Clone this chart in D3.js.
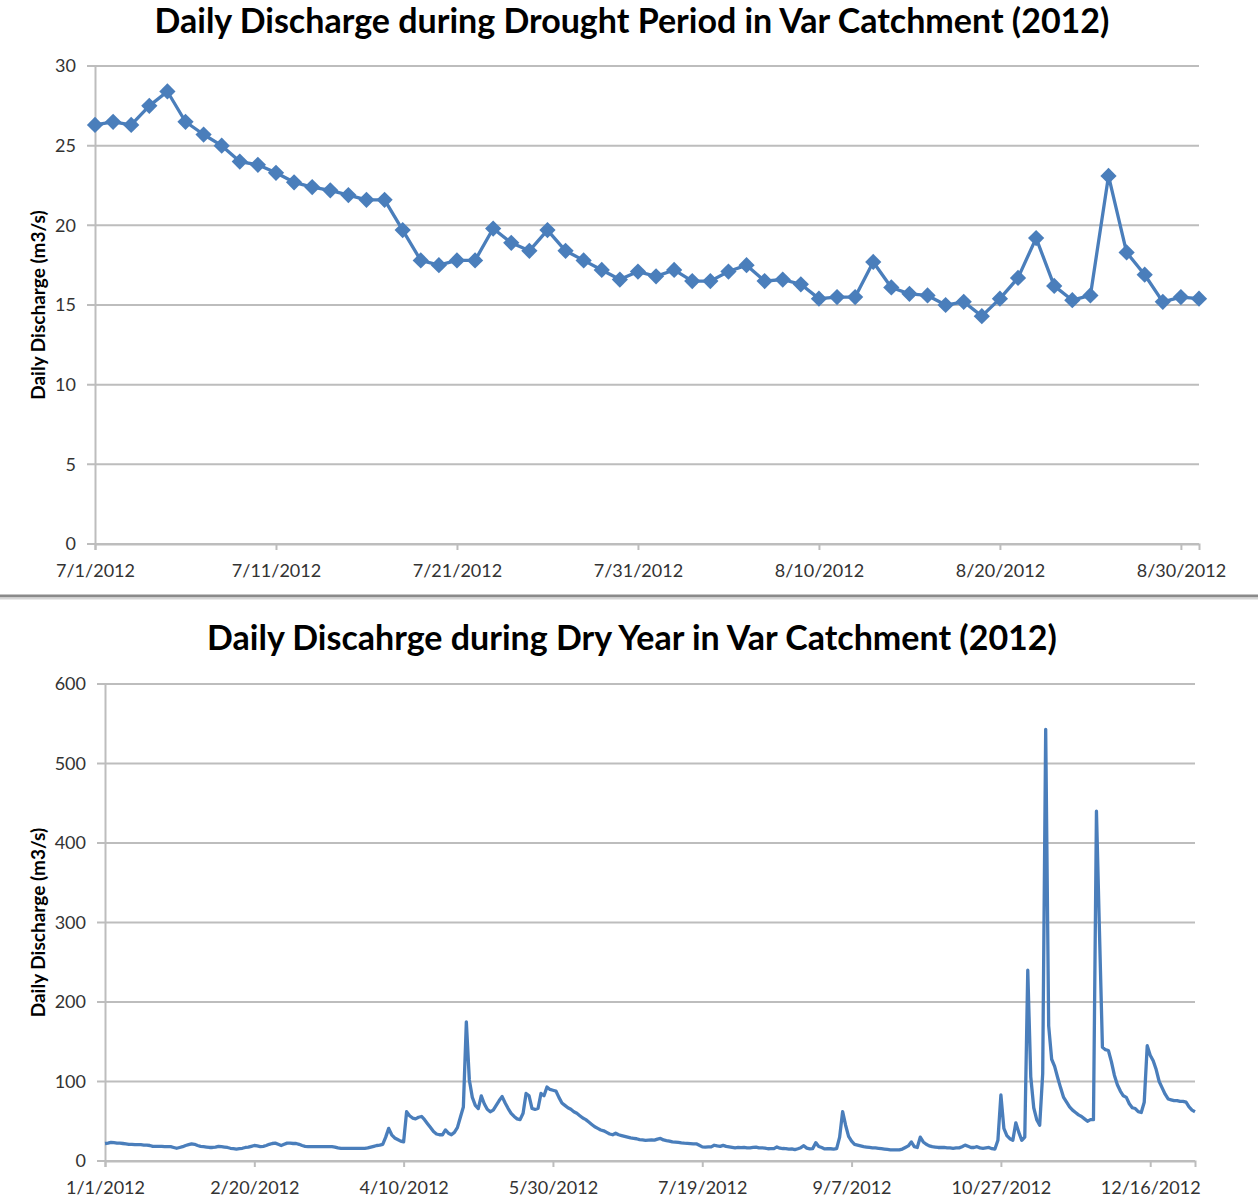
<!DOCTYPE html>
<meta charset="utf-8">
<script src="https://d3js.org/d3.v7.min.js"></script>
<style>
  body { margin: 0; background: #fff; }
  text { font-family: Lato, "Open Sans", sans-serif; }
</style>
<div id="chart"></div>
<script>
// ---- data ----
// drought period: daily discharge 7/1/2012 - 8/31/2012 (m3/s)
var droughtStart = "7/1/2012";
var droughtValues = [
  26.3, 26.5, 26.3, 27.5, 28.4, 26.5, 25.7, 25.0, 24.0, 23.8,
  23.3, 22.7, 22.4, 22.2, 21.9, 21.6, 21.6, 19.7, 17.8, 17.5,
  17.8, 17.8, 19.8, 18.9, 18.4, 19.7, 18.4, 17.8, 17.2, 16.6,
  17.1, 16.8, 17.2, 16.5, 16.5, 17.1, 17.5, 16.5, 16.6, 16.3,
  15.4, 15.5, 15.5, 17.7, 16.1, 15.7, 15.6, 15.0, 15.2, 14.3,
  15.4, 16.7, 19.2, 16.2, 15.3, 15.6, 23.1, 18.3, 16.9, 15.2,
  15.5, 15.4
];
var droughtXTicks = ["7/1/2012", "7/11/2012", "7/21/2012", "7/31/2012", "8/10/2012", "8/20/2012", "8/30/2012"];
var droughtYTicks = [0, 5, 10, 15, 20, 25, 30];

// dry year: daily discharge for 2012, month by month (m3/s)
var yearStart = "1/1/2012";
var janValues = [22, 22.5, 23.5, 23, 22.5, 22.5, 22, 21.5, 21, 21, 20.5, 20.5, 20.5, 20, 20, 19.5, 18.5, 18.5, 18.5, 18.5, 18, 18, 18, 17, 16, 17, 18, 19.5, 20.5, 21.5, 21];
var febValues = [19.5, 18.5, 18, 17.5, 17, 17, 17.5, 18.5, 18, 17.5, 17, 16, 15.5, 15, 15.5, 16, 17, 17.5, 18.5, 19.5, 19, 18, 18.5, 19.5, 21, 22, 22.5, 21, 19.5];
var marValues = [21, 22.5, 22.5, 22, 22, 21, 19.5, 18.5, 18, 18, 18, 18, 18, 18, 18, 18, 18, 17.5, 16.5, 16, 16, 16, 16, 16, 16, 16, 16, 16, 16.5, 17.5, 18.5];
var aprValues = [19.5, 20, 21, 30, 41, 33, 29, 27, 25, 24, 62, 57, 54, 53, 55, 56, 52, 47, 42, 37, 34, 33, 33, 39, 35, 33, 36, 42, 55, 68];
var mayValues = [175, 102, 80, 70, 66, 82, 72, 65, 62, 64, 70, 76, 81, 73, 66, 60, 56, 53, 52, 60, 85, 82, 66, 65, 66, 85, 82, 93, 90, 89, 88];
var junValues = [80, 73, 70, 67, 65, 62, 60, 57, 54, 52, 49, 46, 43, 41, 39, 38, 36, 34, 33, 35, 33, 32, 31, 30, 29, 28.5, 28, 27, 26.5, 26];
// July and August are the drought period above
var sepValues = [15, 15.5, 30, 62, 45, 31, 25, 21, 20, 19, 18, 17.5, 17, 16.5, 16.5, 16, 15.5, 15, 14.5, 14, 14, 14, 14, 15, 17, 19, 24, 18, 17, 30];
var octValues = [24, 21, 19, 18, 17.5, 17, 17, 17, 16.5, 16.5, 16, 16.5, 16.5, 18, 20, 18.5, 17, 17, 18, 16.5, 16, 16.5, 17, 15.5, 15, 26, 83, 41, 32, 28, 26];
var novValues = [48, 36, 26, 30, 240, 106, 67, 52, 45, 110, 543, 170, 128, 119, 105, 92, 80, 74, 68, 64, 61, 58, 56, 53, 50, 52, 52, 440, 290, 143];
var decValues = [140, 139, 125, 108, 96, 88, 82, 80, 72, 67, 66, 62, 61, 74, 145, 133, 126, 115, 100, 92, 84, 78, 77, 76, 76, 75, 75, 74, 68, 64, 62];
var yearXTicks = ["1/1/2012", "2/20/2012", "4/10/2012", "5/30/2012", "7/19/2012", "9/7/2012", "10/27/2012", "12/16/2012"];
var yearYTicks = [0, 100, 200, 300, 400, 500, 600];

var titleTop = "Daily Discharge during Drought Period in Var Catchment (2012)";
var titleBottom = "Daily Discahrge during Dry Year in Var Catchment (2012)";
var yLabel = "Daily Discharge (m3/s)";

// ---- setup ----
var parseDate = d3.timeParse("%m/%d/%Y");
var fmtDate = d3.timeFormat("%-m/%-d/%Y");
var lineColor = "#4a7ebb";
var gridColor = "#bdbdbd";

var yearValues = [].concat(janValues, febValues, marValues, aprValues, mayValues, junValues,
                           droughtValues, sepValues, octValues, novValues, decValues);

function toSeries(start, values) {
  var t0 = parseDate(start);
  return values.map(function(v, i) { return {date: d3.timeDay.offset(t0, i), value: v}; });
}

var svg = d3.select("#chart")
  .append("svg")
    .attr("width", 1258)
    .attr("height", 1202);

svg.append("rect").attr("width", 1258).attr("height", 1202).attr("fill", "#fff");

function drawPanel(p) {
  var width = p.right - p.left,
      height = p.bottom - p.top;
  var g = svg.append("g").attr("transform", "translate(" + p.left + "," + p.top + ")");

  var x = d3.scaleTime()
    .domain(d3.extent(p.data, function(d) { return d.date; }))
    .range([0, width]);
  var y = d3.scaleLinear()
    .domain([0, d3.max(p.yTicks)])
    .range([height, 0]);

  // horizontal grid lines (with a short stub left of the axis)
  g.selectAll(".grid")
    .data(p.yTicks)
    .enter().append("line")
      .attr("x1", -8).attr("x2", width)
      .attr("y1", function(d) { return y(d); })
      .attr("y2", function(d) { return y(d); })
      .attr("stroke", gridColor)
      .attr("stroke-width", 2);

  // y axis labels
  var yAxis = g.append("g")
    .call(d3.axisLeft(y).tickValues(p.yTicks).tickSize(0).tickPadding(p.yPad));
  yAxis.select(".domain").attr("stroke", gridColor).attr("stroke-width", 2);
  yAxis.selectAll("text")
    .style("font-size", "18px")
    .attr("fill", "#333");

  // x axis
  var xAxis = g.append("g")
    .attr("transform", "translate(0," + height + ")")
    .call(d3.axisBottom(x)
      .tickValues(p.xTicks.map(parseDate))
      .tickFormat(fmtDate)
      .tickSize(6)
      .tickPadding(14));
  xAxis.select(".domain").attr("stroke", gridColor).attr("stroke-width", 2);
  xAxis.selectAll(".tick line").attr("stroke", gridColor).attr("stroke-width", 2);
  xAxis.selectAll("text")
    .style("font-size", "18px")
    .attr("fill", "#333");

  // the line
  var line = d3.line()
    .x(function(d) { return x(d.date); })
    .y(function(d) { return y(d.value); });

  g.append("path")
    .datum(p.data)
    .attr("fill", "none")
    .attr("stroke", lineColor)
    .attr("stroke-width", 3.3)
    .attr("stroke-linejoin", "round")
    .attr("d", line);

  if (p.markers) {
    g.selectAll(".marker")
      .data(p.data)
      .enter().append("path")
        .attr("d", d3.symbol().type(d3.symbolSquare).size(132))
        .attr("transform", function(d) {
          return "translate(" + x(d.date) + "," + y(d.value) + ")rotate(45)";
        })
        .attr("fill", lineColor);
  }

  // title
  svg.append("text")
    .attr("x", 632)
    .attr("y", p.titleY)
    .attr("text-anchor", "middle")
    .style("font-size", "34px")
    .style("font-weight", "bold")
    .text(p.title);

  // y axis title
  svg.append("text")
    .attr("transform", "translate(45," + (p.top + height / 2) + ")rotate(-90)")
    .attr("text-anchor", "middle")
    .style("font-size", "19px")
    .style("font-weight", "bold")
    .text(yLabel);
}

drawPanel({
  data: toSeries(droughtStart, droughtValues),
  left: 95, right: 1199, top: 66, bottom: 544,
  xTicks: droughtXTicks, yTicks: droughtYTicks, yPad: 19,
  markers: true, title: titleTop, titleY: 33
});

// separator between the two charts
svg.append("line")
  .attr("x1", 0).attr("x2", 1258)
  .attr("y1", 596).attr("y2", 596)
  .attr("stroke", "#8a8a8a")
  .attr("stroke-width", 3);
svg.append("line")
  .attr("x1", 0).attr("x2", 1258)
  .attr("y1", 598.5).attr("y2", 598.5)
  .attr("stroke", "#d6d6d6")
  .attr("stroke-width", 2);

drawPanel({
  data: toSeries(yearStart, yearValues),
  left: 105, right: 1195, top: 684, bottom: 1161,
  xTicks: yearXTicks, yTicks: yearYTicks, yPad: 19,
  markers: false, title: titleBottom, titleY: 650
});
</script>
